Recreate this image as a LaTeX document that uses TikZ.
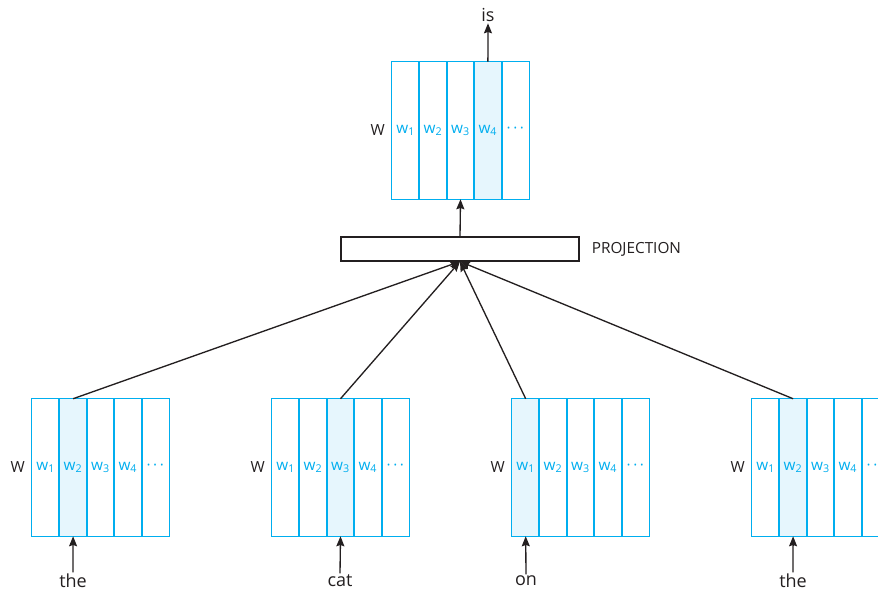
\documentclass[tikz,border=0pt]{standalone}
\usepackage{fontspec}
\setmainfont{Open Sans}
\usetikzlibrary{positioning,arrows.meta}

\definecolor{wcyan}{RGB}{0,174,239}
\definecolor{wfill}{RGB}{230,246,253}
\definecolor{ink}{RGB}{35,31,32}

\tikzset{
  cell/.style={rectangle, inner sep=0pt,
    minimum width=20.55pt, minimum height=102.75pt, text=wcyan,
    font=\fontsize{11.5}{13}\selectfont},
  cellline/.style={draw=wcyan, line width=1.1pt},
  wlabel/.style={text=ink, inner sep=0pt, font=\fontsize{11.5}{13}\selectfont},
  word/.style={text=ink, inner sep=1pt, font=\fontsize{13.5}{15}\selectfont},
  proj/.style={draw=ink, line width=0.8pt, rectangle, inner sep=0pt,
    minimum width=178.5pt, minimum height=18pt},
  arr/.style={draw=ink, line width=1pt, -{Stealth[length=7.5pt,width=6pt,inset=1pt]}}
}

\newcommand{\cellname}[1]{\ifnum#1=5 \textperiodcentered\,\textperiodcentered\,\textperiodcentered\else w\textsubscript{#1}\fi}

\begin{document}
\begin{tikzpicture}[x=0.75pt,y=-0.75pt]
\useasboundingbox (0,0) rectangle (878,593);

%-------------------Word matrices--------------------%
\foreach \m/\x/\y/\hl in {0/392/130.5/4, 1/32/467.5/2, 2/272/467.5/3, 3/512/467.5/1, 4/752/467.5/2}{
  \foreach \i in {1,...,5}{
    \ifnum\i=\hl \def\cellfill{wfill}\else \def\cellfill{white}\fi
    \node[cell, fill=\cellfill] (m\m c\i) at ({\x+(\i-0.5)*27.4},\y) {\cellname{\i}};
  }
  \foreach \i in {1,...,5}
    \draw[cellline] (m\m c\i.north west) rectangle (m\m c\i.south east);
  \node[wlabel, left=5pt of m\m c1] (w\m) {W};
}
%----------------------------------------------------%

%-------------------Projection-----------------------%
\node[proj] (proj) at (460,249) {};
\node[wlabel, right=9pt of proj] (projlabel) {PROJECTION};
%----------------------------------------------------%

%-------------------Words----------------------------%
\node[word] (is) at (488,15) {is};
\node[word] (the1) at (73,581) {the};
\node[word] (cat) at (340,581) {cat};
\node[word] (on) at (526,581) {on};
\node[word] (the2) at (793,581) {the};
%----------------------------------------------------%

\draw[arr] (m0c4.north) -- (is.south);
\draw[arr] (proj.north) -- (m0c3.south);
\draw[arr] (m1c2.north) -- (proj.south);
\draw[arr] (m2c3.north) -- (proj.south);
\draw[arr] (m3c1.north) -- (proj.south);
\draw[arr] (m4c2.north) -- (proj.south);
\draw[arr] (the1.north) -- (m1c2.south);
\draw[arr] (cat.north) -- (m2c3.south);
\draw[arr] (on.north) -- (m3c1.south);
\draw[arr] (the2.north) -- (m4c2.south);
\end{tikzpicture}
\end{document}
